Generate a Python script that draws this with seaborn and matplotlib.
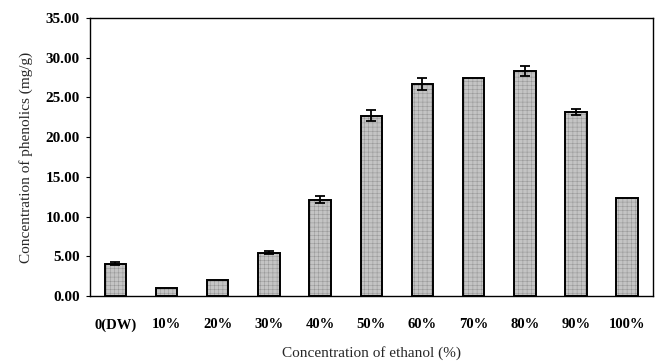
import matplotlib
matplotlib.use("Agg")
import matplotlib.pyplot as plt
import seaborn as sns
import pandas as pd

categories = ["0(DW)", "10%", "20%", "30%", "40%", "50%", "60%", "70%", "80%", "90%", "100%"]
values = [4.05, 1.05, 2.05, 5.45, 12.1, 22.7, 26.7, 27.5, 28.3, 23.2, 12.3]
errors = [0.2, 0.0, 0.0, 0.2, 0.45, 0.7, 0.8, 0.0, 0.6, 0.4, 0.0]
yticks = [0, 5, 10, 15, 20, 25, 30, 35]

sns.set_theme(style="white")
plt.rcParams["font.family"] = ["Liberation Serif", "DejaVu Serif"]

df = pd.DataFrame({"cat": categories, "val": values})

fig = plt.figure(figsize=(6.6, 3.61), dpi=100)
ax = fig.add_axes([0.136, 0.18, 0.853, 0.77])

sns.barplot(data=df, x="cat", y="val", order=categories, color="#c4c4c4",
            width=0.42, edgecolor="black", linewidth=1.4, ax=ax, errorbar=None,
            saturation=1)
for p in ax.patches:
    p.set_hatch("++++")
    p.set_hatch_linewidth(0.3)
    p._hatch_color = (0.55, 0.55, 0.55, 1)

xs = list(range(len(categories)))
ex = [x for x, e in zip(xs, errors) if e > 0]
ey = [v for v, e in zip(values, errors) if e > 0]
ee = [e for e in errors if e > 0]
ax.errorbar(ex, ey, yerr=ee, fmt="none", ecolor="black", elinewidth=1.3,
            capsize=3.3, capthick=1.3)

ax.set_ylim(0, 35)
ax.set_xlim(-0.5, len(categories) - 0.5)
ax.set_yticks(yticks)
ax.set_yticklabels([f"{t:.2f}" for t in yticks], fontweight="bold", fontsize=11)
ax.set_xticks(xs)
ax.set_xticklabels(categories, fontweight="bold", fontsize=10.5)
ax.tick_params(axis="y", which="both", left=True, length=3, width=0.8, pad=4, colors="black")
ax.tick_params(axis="x", bottom=False, pad=10, colors="black")
for s in ax.spines.values():
    s.set_color("black")
    s.set_linewidth(1.0)

ax.set_xlabel("Concentration of ethanol (%)", fontsize=11, labelpad=10)
ax.set_ylabel("Concentration of phenolics (mg/g)", fontsize=11, labelpad=9)

fig.savefig("out.png", dpi=100)
